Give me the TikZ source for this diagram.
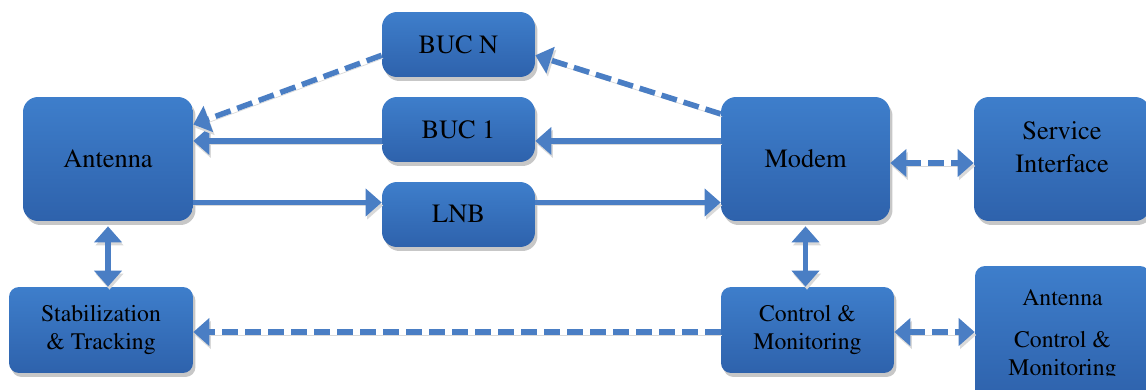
\documentclass[tikz,border=0pt]{standalone}
\usepackage[T1]{fontenc}
\usepackage{times}
\usetikzlibrary{arrows.meta,shadows}
\definecolor{BoxTop}{RGB}{62,126,203}
\definecolor{BoxBot}{RGB}{46,98,172}
\definecolor{LinkBlue}{RGB}{74,126,196}

\begin{document}
\begin{tikzpicture}[
        %Environment config
        x=0.02cm, y=-0.02cm,
        %Environment styles
        BoxCfg/.style={
            rounded corners=0.3cm,
            top color=BoxTop, bottom color=BoxBot,
            drop shadow={shadow xshift=0.05cm, shadow yshift=-0.08cm,
                fill=black!22, opacity=1},
            align=center, inner sep=0pt,
            font=\fontsize{15}{19}\selectfont
        },
        SmallCfg/.style={
            BoxCfg, rounded corners=0.2cm,
            font=\fontsize{13.5}{15.5}\selectfont
        },
        LinkCfg/.style={
            draw=LinkBlue, line width=0.11cm,
            preaction={draw=black!15,
                transform canvas={shift={(0.03cm,-0.06cm)}}}
        },
        OneWay/.style={LinkCfg, -{Triangle[length=0.32cm,width=0.54cm]}},
        TwoWay/.style={LinkCfg,
            {Triangle[length=0.32cm,width=0.54cm]}-{Triangle[length=0.32cm,width=0.54cm]}},
        DashCfg/.style={dash pattern=on 0.32cm off 0.14cm}
    ]
    \clip (0,0) rectangle (1146,389);

    \path
        (108,159) node[BoxCfg, minimum width=3.4cm, minimum height=2.48cm](antenna){Antenna}
        (458.5,44.5) node[BoxCfg, minimum width=3.06cm, minimum height=1.3cm](bucn){BUC N}
            ++ (0,85) node[BoxCfg, minimum width=3.06cm, minimum height=1.3cm](buc1){BUC 1}
            ++ (0,85) node[BoxCfg, minimum width=3.06cm, minimum height=1.3cm](lnb){LNB}
        (805.5,159) node[BoxCfg, minimum width=3.38cm, minimum height=2.48cm](modem){Modem}
        (1062,159) node[BoxCfg, minimum width=3.52cm, minimum height=2.48cm](service){}
        (101,330) node[SmallCfg, minimum width=3.68cm, minimum height=1.72cm](stab){Stabilization\\\& Tracking}
        (807.5,330) node[SmallCfg, minimum width=3.46cm, minimum height=1.72cm](control){Control \&\\Monitoring}
        (1062.5,333) node[SmallCfg, minimum width=3.5cm, minimum height=2.68cm](acm){};

    \node[align=center, font=\fontsize{15}{19}\selectfont] (servicetext)
        at ([yshift=0.24cm]service.center) {Service\\Interface};
    \begin{scope}
        \clip (960,250) rectangle (1146,375);
        \node[align=center, font=\fontsize{13.5}{15.5}\selectfont] (acmtext)
            at ([yshift=-0.04cm]acm.center) {Antenna\\[0.3cm]Control \&\\Monitoring};
    \end{scope}

    %uplink
    \draw[OneWay] (modem.168) -- (modem.168 -| buc1.east);
    \draw[OneWay] (buc1.west |- modem.168) -- (antenna.east |- modem.168);
    \draw[OneWay, DashCfg] (modem.152) -- (bucn.-8);
    \draw[OneWay, DashCfg] (bucn.188) -- (antenna.22);

    %downlink
    \draw[OneWay] (antenna.-27) -- (antenna.-27 -| lnb.west);
    \draw[OneWay] (lnb.east |- antenna.-27) -- (modem.west |- antenna.-27);

    %control
    \draw[TwoWay, shorten <=0.1cm] (antenna.south) -- (antenna.south |- stab.north);
    \draw[TwoWay, shorten <=0.1cm] (modem.south) -- (modem.south |- control.north);
    \draw[TwoWay, DashCfg] ([yshift=-0.08cm]modem.east) -- ([yshift=-0.08cm]modem.east -| service.west);
    \draw[TwoWay, DashCfg] ([yshift=-0.04cm]control.east) -- ([yshift=-0.04cm]control.east -| acm.west);
    \draw[OneWay, DashCfg] ([yshift=-0.04cm]control.west) -- ([yshift=-0.04cm]control.west -| stab.east);
\end{tikzpicture}
\end{document}
